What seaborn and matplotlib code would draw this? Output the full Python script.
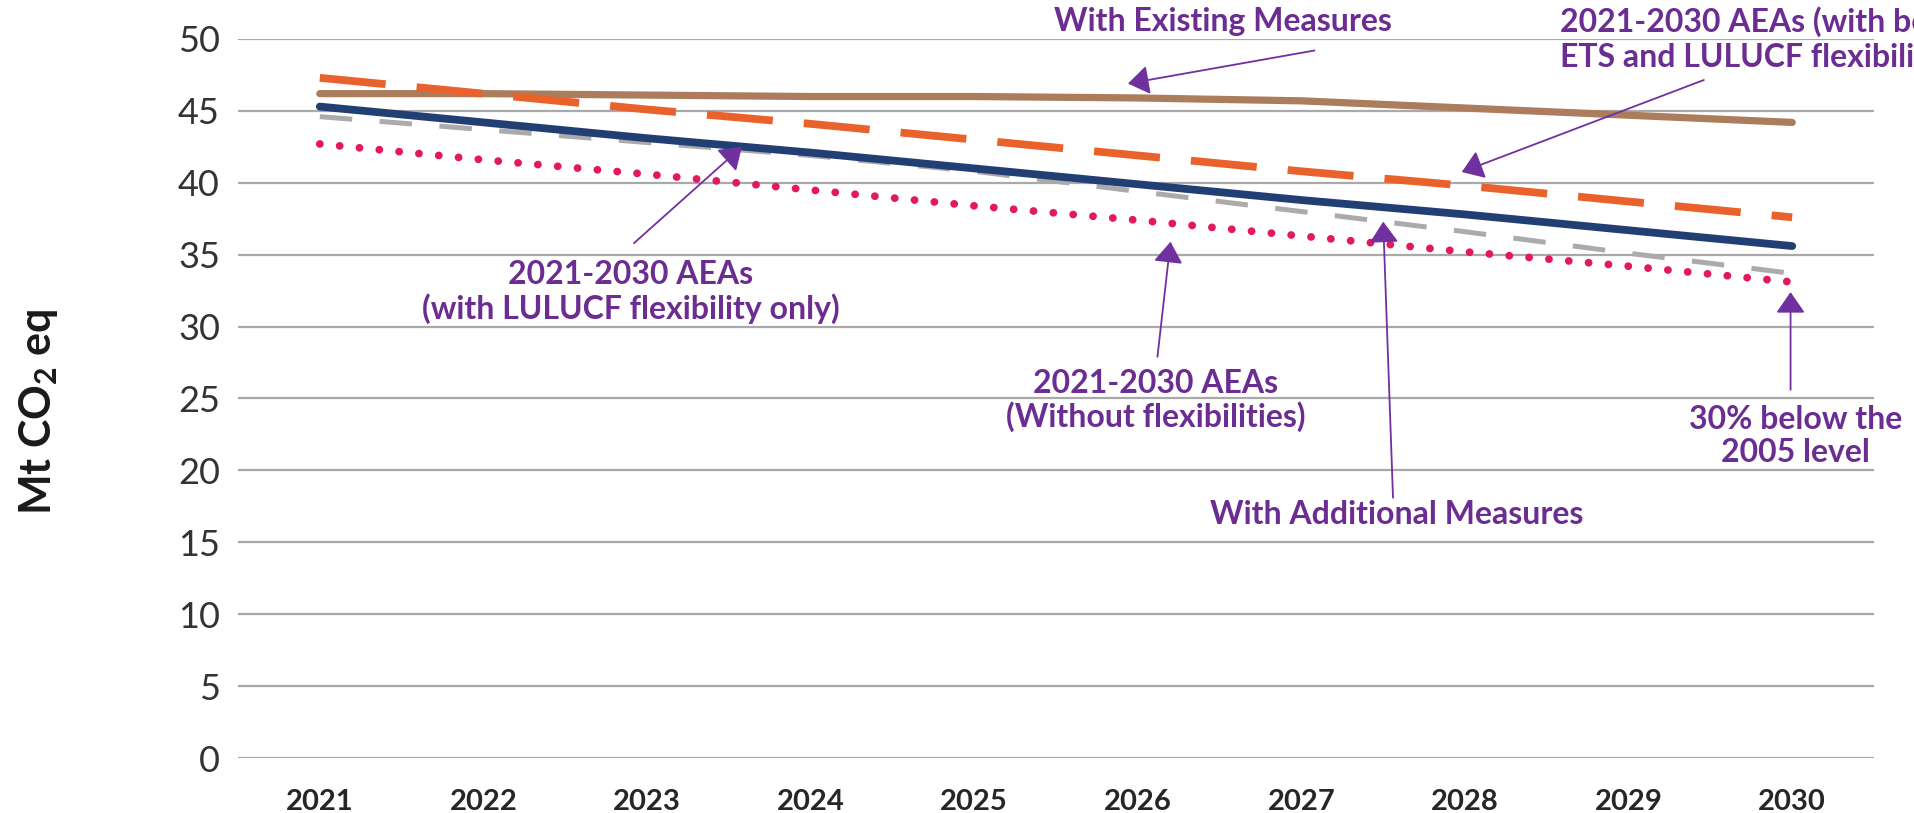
import matplotlib
matplotlib.use("Agg")
import matplotlib.pyplot as plt
import seaborn as sns
import pandas as pd

years = [2021, 2022, 2023, 2024, 2025, 2026, 2027, 2028, 2029, 2030]
wem = [46.2, 46.2, 46.1, 46.0, 46.0, 45.9, 45.7, 45.2, 44.7, 44.2]
aea_both = [47.3, 46.2, 45.1, 44.1, 43.0, 41.9, 40.8, 39.8, 38.7, 37.6]
aea_lulucf = [45.3, 44.2, 43.1, 42.1, 41.0, 39.9, 38.8, 37.8, 36.7, 35.6]
wam = [44.6, 43.7, 42.8, 41.9, 40.8, 39.4, 38.0, 36.6, 35.1, 33.7]
aea_none = [42.7, 41.6, 40.6, 39.5, 38.4, 37.4, 36.3, 35.2, 34.2, 33.1]
y_ticks = [0, 5, 10, 15, 20, 25, 30, 35, 40, 45, 50]

sns.set_theme(style="white")
plt.rcParams['font.family'] = ['Lato', 'DejaVu Sans']
plt.rcParams['mathtext.fontset'] = 'custom'
plt.rcParams['mathtext.bf'] = 'Lato:bold'
plt.rcParams['mathtext.rm'] = 'Lato'

W, H = 1914, 813
fig = plt.figure(figsize=(W / 100, H / 100), dpi=100)
ax = fig.add_axes([238 / W, 1 - 758 / H, (1874 - 238) / W, (758 - 39) / H])

df = pd.DataFrame({"year": years, "wem": wem, "both": aea_both,
                   "lulucf": aea_lulucf, "wam": wam, "none": aea_none})

# grid
for v in y_ticks:
    ax.axhline(v, color="#a9a9a9", lw=1.6, zorder=0)

sns.lineplot(data=df, x="year", y="wem", ax=ax, color="#AB7D5C", lw=5.2,
             solid_capstyle="round", zorder=3)
sns.lineplot(data=df, x="year", y="wam", ax=ax, color="#ABABAB", lw=3.6,
             linestyle=(0, (6.5, 5.5)), zorder=2)
sns.lineplot(data=df, x="year", y="lulucf", ax=ax, color="#213F73", lw=5.6,
             solid_capstyle="round", zorder=3)
sns.lineplot(data=df, x="year", y="both", ax=ax, color="#EA622B", lw=5.6,
             linestyle=(0, (8.5, 4.0)), zorder=3)
sns.lineplot(data=df, x="year", y="none", ax=ax, color="#E3185E", lw=5.6,
             linestyle=(0, (0.01, 2.55)), dash_capstyle="round", zorder=3)

ax.set_xlim(2020.5, 2030.5)
ax.set_ylim(0, 50)
ax.set_xticks(years)
ax.set_xticklabels([str(y) for y in years], fontsize=21, fontweight="bold",
                   color="#262626")
ax.set_yticks(y_ticks)
ax.set_yticklabels([str(v) for v in y_ticks], fontsize=26, color="#333333")
ax.tick_params(axis="x", length=0, pad=22)
ax.tick_params(axis="y", length=0, pad=13)
for s in ax.spines.values():
    s.set_visible(False)
ax.set_xlabel("")
ax.set_ylabel("")

fig.text(39 / W, 1 - 412 / H, "Mt CO$_\\mathbf{2}$ eq", rotation=90,
         ha="center", va="center", fontsize=31, fontweight="bold",
         color="#1a1a1a")

purple_arrow = "#7030A0"
purple_text = "#6B2D91"
aprops = dict(arrowstyle="-|>,head_length=0.65,head_width=0.45",
              color=purple_arrow, lw=1.3, shrinkA=0, shrinkB=0,
              mutation_scale=20)

arrows = [
    ((2025.94, 46.9), (2027.08, 49.2)),
    ((2027.98, 40.75), (2029.46, 47.15)),
    ((2023.58, 42.5), (2022.92, 35.8)),
    ((2026.2, 35.9), (2026.12, 27.9)),
    ((2027.5, 37.3), (2027.56, 18.1)),
    ((2029.99, 32.4), (2029.99, 25.6)),
]
for head, tail in arrows:
    ax.annotate("", xy=head, xytext=tail, arrowprops=aprops,
                annotation_clip=False, zorder=5)

tk = dict(fontsize=23, fontweight="bold", color=purple_text, clip_on=False,
          zorder=6)
ls = 1.14
ax.text(2026.52, 51.2, "With Existing Measures", ha="center", va="center", **tk)
ax.text(2028.58, 50.0, "2021-2030 AEAs (with both\nETS and LULUCF flexibilities)",
        ha="left", va="center", linespacing=ls, **tk)
ax.text(2022.9, 32.4, "2021-2030 AEAs\n(with LULUCF flexibility only)",
        ha="center", va="center", linespacing=ls, **tk)
ax.text(2026.11, 24.85, "2021-2030 AEAs\n(Without flexibilities)",
        ha="center", va="center", linespacing=ls, **tk)
ax.text(2027.58, 16.9, "With Additional Measures", ha="center", va="center", **tk)
ax.text(2030.02, 22.4, "30% below the\n2005 level", ha="center", va="center",
        linespacing=ls, **tk)

fig.savefig("out.png", dpi=100)
